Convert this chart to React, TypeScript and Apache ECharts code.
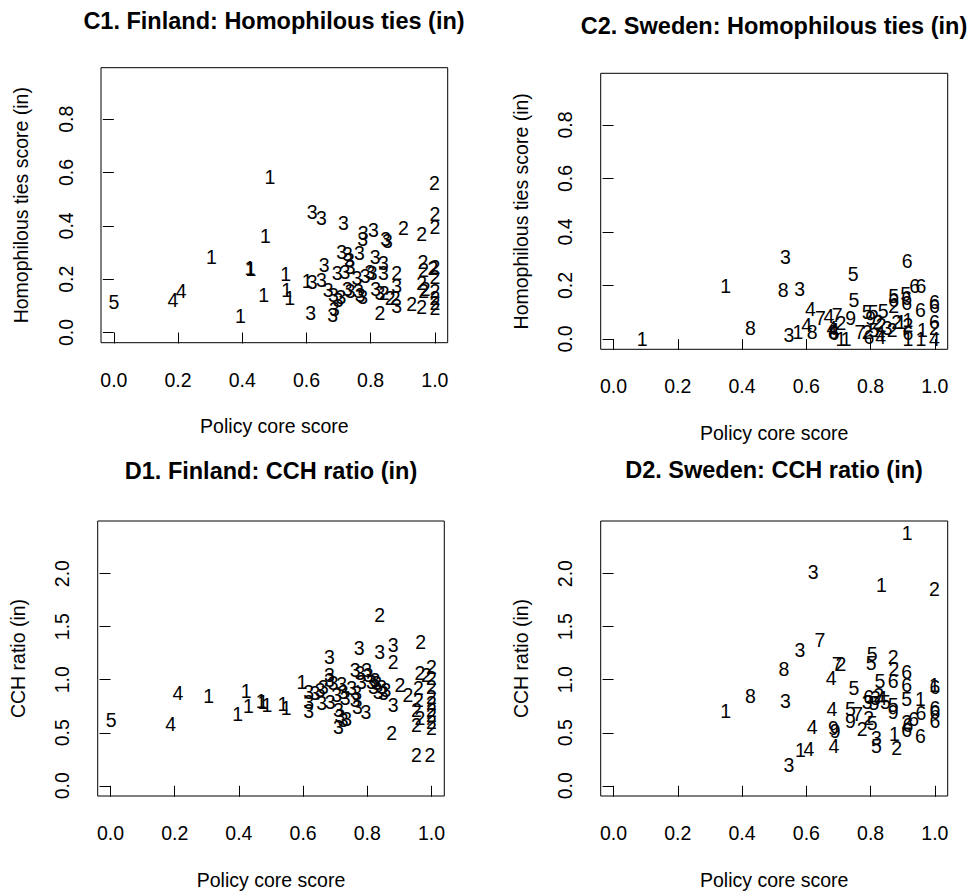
import React, { useEffect, useRef } from "react";
import * as echarts from "echarts";

const FONT = '"Liberation Sans", Arial, Helvetica, sans-serif';

const xTicks = [0, 0.2, 0.4, 0.6, 0.8, 1.0];
const yTicksC = [0, 0.2, 0.4, 0.6, 0.8];
const yTicksD = [0, 0.5, 1.0, 1.5, 2.0];

const titles = [
  "C1. Finland: Homophilous ties (in)",
  "C2. Sweden: Homophilous ties (in)",
  "D1. Finland: CCH ratio (in)",
  "D2. Sweden: CCH ratio (in)",
];
const xName = "Policy core score";
const yNames = [
  "Homophilous ties score (in)",
  "Homophilous ties score (in)",
  "CCH ratio (in)",
  "CCH ratio (in)",
];

// C1. Finland: homophilous ties
const c1Group = [5, 4, 4, 1, 1, 1, 1, 1, 1, 1, 1, 1, 1, 1,
  3, 3, 3, 3, 3, 3, 3, 3, 3, 3, 3, 3, 3, 3, 3, 3, 3, 3, 3, 3, 3, 3, 3, 3, 3, 3, 3, 3, 3, 3, 3, 3, 3, 3, 3, 3, 3, 3, 3, 3, 3,
  2, 2, 2, 2, 2, 2, 2, 2, 2, 2, 2, 2, 2, 2, 2, 2, 2, 2, 2, 2, 2, 2, 2, 2];
const c1X = [0.0, 0.21, 0.184, 0.304, 0.424, 0.427, 0.394, 0.486, 0.472, 0.467, 0.535, 0.538, 0.548, 0.602,
  0.618, 0.647, 0.715, 0.618, 0.647, 0.655, 0.668, 0.684, 0.699, 0.613, 0.682, 0.687, 0.696, 0.707, 0.71, 0.728, 0.734, 0.736, 0.72, 0.728, 0.736, 0.765, 0.757, 0.762, 0.767, 0.775, 0.777, 0.775, 0.809, 0.783, 0.798, 0.805, 0.814, 0.84, 0.84, 0.847, 0.852, 0.816, 0.829, 0.881, 0.881,
  0.829, 0.842, 0.861, 0.876, 0.881, 0.902, 0.928, 0.959, 0.963, 0.965, 0.959, 0.965, 0.959, 0.97, 0.999, 1.0, 1.0, 1.0, 1.0, 1.0, 1.0, 1.0, 1.0, 0.994];
const c1Y = [0.114, 0.154, 0.122, 0.285, 0.241, 0.237, 0.062, 0.584, 0.362, 0.139, 0.218, 0.16, 0.129, 0.194,
  0.453, 0.428, 0.41, 0.191, 0.197, 0.253, 0.16, 0.141, 0.122, 0.072, 0.066, 0.087, 0.225, 0.135, 0.301, 0.295, 0.272, 0.247, 0.228, 0.162, 0.157, 0.3, 0.203, 0.154, 0.141, 0.135, 0.372, 0.35, 0.385, 0.212, 0.228, 0.222, 0.285, 0.222, 0.262, 0.35, 0.345, 0.162, 0.15, 0.175, 0.1,
  0.072, 0.15, 0.131, 0.131, 0.225, 0.391, 0.106, 0.368, 0.266, 0.235, 0.185, 0.154, 0.097, 0.162, 0.562, 0.444, 0.397, 0.247, 0.207, 0.154, 0.131, 0.11, 0.091, 0.243];

// C2. Sweden: homophilous ties
const c2Group = [1, 1, 8, 3, 8, 3, 3, 1, 4, 8, 4, 7, 4, 7, 2, 9, 4, 8, 6, 4, 1, 1, 5, 5, 7, 5, 5, 5, 9, 2, 2, 2, 5, 4, 6, 4, 3, 2, 2, 1,
  5, 6, 2, 5, 6, 6, 6, 6, 6, 6, 1, 2, 6, 1, 1, 6, 6, 6, 2, 4, 1];
const c2X = [0.089, 0.349, 0.426, 0.535, 0.528, 0.579, 0.546, 0.574, 0.601, 0.618, 0.613, 0.644, 0.67, 0.696, 0.708, 0.738, 0.68, 0.684, 0.686, 0.686, 0.708, 0.724, 0.746, 0.748, 0.767, 0.789, 0.808, 0.839, 0.8, 0.821, 0.833, 0.789, 0.81, 0.829, 0.795, 0.831, 0.852, 0.867, 0.881, 0.895,
  0.872, 0.872, 0.872, 0.909, 0.912, 0.912, 0.914, 0.937, 0.957, 0.955, 0.916, 0.916, 0.916, 0.916, 0.957, 0.999, 0.999, 0.999, 0.999, 0.999, 0.961];
const c2Y = [0.0, 0.198, 0.042, 0.307, 0.183, 0.189, 0.017, 0.027, 0.052, 0.027, 0.111, 0.077, 0.086, 0.09, 0.061, 0.077, 0.04, 0.027, 0.021, 0.034, 0.0, 0.0, 0.243, 0.146, 0.027, 0.102, 0.102, 0.106, 0.077, 0.065, 0.052, 0.027, 0.034, 0.021, 0.009, 0.006, 0.04, 0.034, 0.065, 0.065,
  0.16, 0.146, 0.123, 0.168, 0.152, 0.133, 0.292, 0.198, 0.198, 0.108, 0.073, 0.052, 0.024, 0.0, 0.0, 0.139, 0.123, 0.065, 0.04, 0.0, 0.034];

// D1. Finland: CCH ratio
const d1Group = [5, 4, 4, 1, 1, 1, 1, 1, 1, 1, 1, 1, 1,
  3, 3, 3, 3, 3, 3, 3, 3, 3, 3, 3, 3, 3, 3, 3, 3, 3, 3, 3, 3, 3, 3, 3, 3, 3, 3, 3, 3, 3, 3, 3, 3, 3, 3, 3, 3, 3, 3, 3, 3, 3, 3, 3,
  2, 2, 2, 2, 2, 2, 2, 2, 2, 2, 2, 2, 2, 2, 2, 2, 2, 2, 2, 2, 2, 2, 2, 2];
const d1X = [0.002, 0.21, 0.187, 0.306, 0.423, 0.43, 0.396, 0.469, 0.475, 0.487, 0.537, 0.547, 0.596,
  0.617, 0.617, 0.617, 0.637, 0.653, 0.658, 0.663, 0.682, 0.682, 0.682, 0.684, 0.694, 0.705, 0.71, 0.715, 0.71, 0.725, 0.736, 0.72, 0.725, 0.731, 0.751, 0.762, 0.767, 0.769, 0.762, 0.777, 0.775, 0.782, 0.798, 0.803, 0.796, 0.813, 0.819, 0.829, 0.834, 0.845, 0.85, 0.858, 0.824, 0.839, 0.881, 0.881,
  0.839, 0.966, 0.881, 0.902, 0.927, 0.964, 0.984, 1.0, 1.0, 1.0, 1.0, 1.0, 1.0, 1.0, 1.0, 1.0, 0.959, 0.959, 0.953, 0.964, 0.953, 0.876, 0.953, 0.995];
const d1Y = [0.621, 0.871, 0.58, 0.85, 0.893, 0.755, 0.674, 0.799, 0.787, 0.762, 0.768, 0.73, 0.975,
  0.887, 0.793, 0.705, 0.871, 0.903, 0.777, 0.934, 1.216, 1.044, 0.997, 0.793, 0.966, 0.856, 0.715, 0.661, 0.558, 0.621, 0.63, 0.956, 0.887, 0.824, 0.918, 0.809, 0.871, 0.746, 1.091, 1.066, 1.295, 0.981, 1.091, 1.044, 0.699, 0.981, 0.934, 0.966, 0.887, 0.934, 0.871, 0.903, 0.997, 1.263, 1.326, 0.762,
  1.608, 1.357, 1.169, 0.95, 0.856, 1.06, 1.044, 1.122, 1.013, 0.934, 0.84, 0.777, 0.715, 0.668, 0.605, 0.542, 0.918, 0.809, 0.715, 0.636, 0.574, 0.495, 0.292, 0.292];

// D2. Sweden: CCH ratio
const d2Group = [1, 3, 1, 2, 7, 3, 8, 8, 1, 3, 5, 5, 2, 2, 6, 7, 2, 4, 5, 6, 6, 1, 6, 5, 6, 3, 2, 4, 3, 5, 5, 5, 5, 1, 9, 4, 5, 7, 9, 2, 5, 2, 4, 9, 9, 4, 1, 4, 3, 3, 5, 2, 1, 6, 2, 6, 6, 6, 6, 6, 6, 6];
const d2X = [0.914, 0.621, 0.834, 0.999, 0.642, 0.58, 0.53, 0.426, 0.349, 0.535, 0.805, 0.802, 0.87, 0.873, 0.912, 0.696, 0.708, 0.677, 0.829, 0.87, 0.912, 0.999, 1.0, 0.748, 0.794, 0.815, 0.825, 0.835, 0.789, 0.81, 0.846, 0.87, 0.912, 0.955, 0.87, 0.68, 0.737, 0.76, 0.737, 0.794, 0.805, 0.774, 0.618, 0.684, 0.69, 0.686, 0.582, 0.608, 0.546, 0.818, 0.818, 0.881, 0.874, 0.912, 0.912, 0.916, 0.934, 0.957, 0.955, 1.0, 1.0, 1.0];
const d2Y = [2.386, 2.016, 1.897, 1.859, 1.379, 1.279, 1.1, 0.85, 0.705, 0.799, 1.238, 1.154, 1.216, 1.1, 1.075, 1.144, 1.144, 1.013, 0.987, 0.987, 0.95, 0.95, 0.934, 0.925, 0.84, 0.831, 0.856, 0.824, 0.793, 0.777, 0.793, 0.762, 0.818, 0.818, 0.699, 0.724, 0.724, 0.674, 0.611, 0.636, 0.589, 0.536, 0.558, 0.549, 0.517, 0.379, 0.339, 0.348, 0.197, 0.455, 0.379, 0.354, 0.486, 0.527, 0.605, 0.574, 0.627, 0.683, 0.473, 0.73, 0.699, 0.611];

const panels = [
  { group: c1Group, x: c1X, y: c1Y, yTicks: yTicksC, yMin: -0.0382, yMax: 0.9932,
    grid: { left: 101, top: 67.7, width: 346.7, height: 275 }, title: [274, 22.3] },
  { group: c2Group, x: c2X, y: c2Y, yTicks: yTicksC, yMin: -0.0382, yMax: 0.9932,
    grid: { left: 600.7, top: 73.3, width: 347, height: 276 }, title: [774, 26.7] },
  { group: d1Group, x: d1X, y: d1Y, yTicks: yTicksD, yMin: -0.096, yMax: 2.496,
    grid: { left: 97.7, top: 521, width: 346.6, height: 275 }, title: [271, 472.3] },
  { group: d2Group, x: d2X, y: d2Y, yTicks: yTicksD, yMin: -0.096, yMax: 2.496,
    grid: { left: 600.7, top: 521, width: 347, height: 275 }, title: [774, 470.7] },
];

export default function App() {
  const ref = useRef<HTMLDivElement>(null);
  useEffect(() => {
    if (!ref.current) return;
    const chart = echarts.init(ref.current, undefined, { renderer: "svg" });
    const fmt = (v: number) => v.toFixed(1);
    const option: any = {
      animation: false,
      backgroundColor: "#ffffff",
      textStyle: { fontFamily: FONT },
      title: panels.map((p, i) => ({
        text: titles[i],
        left: p.title[0],
        top: p.title[1] - 13,
        textAlign: "center",
        padding: 0,
        textStyle: { fontSize: 23.5, fontWeight: "bold", color: "#000", fontFamily: FONT },
      })),
      grid: panels.map((p) => ({
        ...p.grid,
        show: true,
        borderColor: "#000",
        borderWidth: 1,
        backgroundColor: "transparent",
        containLabel: false,
      })),
      xAxis: panels.map((p, i) => ({
        gridIndex: i,
        type: "value",
        min: -0.04,
        max: 1.04,
        name: xName,
        nameLocation: "middle",
        nameGap: 73.5,
        nameTextStyle: { fontSize: 19.5, color: "#000", fontFamily: FONT },
        axisLine: { show: false },
        splitLine: { show: false },
        axisTick: { show: true, length: 11, customValues: xTicks, lineStyle: { color: "#000", width: 1 } },
        axisLabel: { customValues: xTicks, formatter: fmt, margin: 27, fontSize: 19.5, color: "#000", fontFamily: FONT },
      })),
      yAxis: panels.map((p, i) => ({
        gridIndex: i,
        type: "value",
        min: p.yMin,
        max: p.yMax,
        name: yNames[i],
        nameLocation: "middle",
        nameGap: 70,
        nameRotate: 90,
        nameTextStyle: { fontSize: 19.5, color: "#000", fontFamily: FONT },
        axisLine: { show: false },
        splitLine: { show: false },
        axisTick: { show: true, length: 11, customValues: p.yTicks, lineStyle: { color: "#000", width: 1 } },
        axisLabel: { customValues: p.yTicks, formatter: fmt, rotate: 90, margin: 25.5, fontSize: 19.5, color: "#000", fontFamily: FONT },
      })),
      series: panels.map((p, i) => ({
        type: "custom",
        xAxisIndex: i,
        yAxisIndex: i,
        silent: true,
        clip: false,
        encode: { x: 0, y: 1 },
        renderItem: (params: any, api: any) => {
          const pt = api.coord([api.value(0), api.value(1)]);
          return {
            type: "text",
            x: pt[0],
            y: pt[1],
            style: {
              text: String(api.value(2)),
              fill: "#000",
              fontSize: 19.5,
              fontFamily: FONT,
              align: "center",
              verticalAlign: "middle",
            },
          };
        },
        data: p.x.map((xv, j) => [xv, p.y[j], p.group[j]]),
      })),
    };
    chart.setOption(option);
    return () => chart.dispose();
  }, []);
  return (
    <div
      ref={ref}
      style={{ position: "absolute", left: 0, top: 0, width: 974, height: 891, background: "#fff" }}
    />
  );
}
